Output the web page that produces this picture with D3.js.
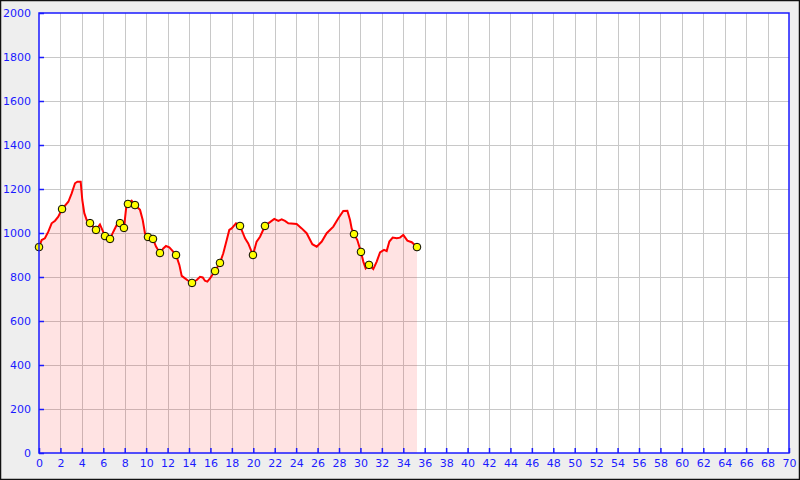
<!DOCTYPE html>
<html><head><meta charset="utf-8">
<script src="https://cdn.jsdelivr.net/npm/d3@7"></script>
<style>
html,body{margin:0;padding:0;background:#fff;}
svg{display:block;}
</style></head>
<body>
<svg id="c" width="800" height="480"></svg>
<script>
// Distance (km) along the profile
const distances = [0,0.25,0.55,0.87,1.18,1.5,1.8,2.15,2.74,3.05,3.36,3.58,3.89,4.04,4.23,4.45,4.76,5.32,5.69,6.16,6.63,6.94,7.25,7.56,7.93,8.18,8.3,8.65,8.96,9.43,9.68,9.89,10.17,10.64,10.92,11.29,11.6,11.85,12.16,12.38,12.79,13.1,13.32,13.63,13.93,14.28,14.72,15.03,15.28,15.49,15.71,15.96,16.43,16.89,17.2,17.52,17.76,17.98,18.39,18.76,19.23,19.53,19.97,20.31,20.63,21.09,21.4,21.96,22.34,22.65,22.96,23.27,24.05,24.52,24.98,25.51,25.92,26.39,26.85,27.47,27.94,28.4,28.78,29.03,29.18,29.4,29.71,30.05,30.27,30.49,30.8,31.2,31.52,31.83,32.2,32.45,32.7,33.01,33.39,33.69,34.0,34.38,34.79,35.28];
// Elevation (m)
const elevations = [936,968,976,1006,1044,1056,1074,1109,1142,1180,1226,1233,1233,1150,1090,1059,1045,1014,1039,986,973,1006,1036,1045,1023,1135,1132,1147,1127,1105,1059,999,982,973,938,909,930,941,935,923,900,855,805,794,783,773,786,801,798,783,779,794,827,864,908,968,1014,1021,1044,1032,976,953,900,961,983,1032,1044,1064,1055,1062,1055,1044,1041,1021,999,949,938,961,999,1029,1067,1100,1101,1059,1021,995,968,914,870,839,855,836,870,912,923,918,961,979,976,979,991,965,958,936];
// Waypoint markers
const waypointDist = [0,2.15,4.76,5.32,6.16,6.63,7.56,7.93,8.3,8.96,10.17,10.64,11.29,12.79,14.28,16.43,16.89,18.76,19.97,21.09,29.4,30.05,30.8,35.28];
const waypointElev = [936,1109,1045,1014,986,973,1045,1023,1132,1127,982,973,909,900,773,827,864,1032,900,1032,995,914,855,936];
const xTicks = d3.range(0, 71, 2);
const yTicks = d3.range(0, 2001, 200);

const W = 800, H = 480;
const L = 39, R = 789, T = 13, B = 453;
const svg = d3.select("#c");
const x = d3.scaleLinear().domain([0, 70]).range([L, R]);
const y = d3.scaleLinear().domain([0, 2000]).range([B, T]);

svg.append("rect").attr("x",0.5).attr("y",0.5).attr("width",W-1).attr("height",H-1)
  .attr("fill","#eeeeee").attr("stroke","#111").attr("stroke-width",1.5);
svg.append("rect").attr("x",L).attr("y",T).attr("width",R-L).attr("height",B-T).attr("fill","#fff");

// grid
const g = svg.append("g").attr("shape-rendering","crispEdges");
g.selectAll(".vg").data(xTicks.filter(d=>d>0&&d<70)).enter().append("line")
  .attr("x1",d=>Math.round(x(d))+0.5).attr("x2",d=>Math.round(x(d))+0.5)
  .attr("y1",T).attr("y2",B).attr("stroke","#c8c8c8");
g.selectAll(".hg").data(yTicks.filter(d=>d>0&&d<2000)).enter().append("line")
  .attr("y1",d=>Math.round(y(d))+0.5).attr("y2",d=>Math.round(y(d))+0.5)
  .attr("x1",L).attr("x2",R).attr("stroke","#c8c8c8");

const data = distances.map((d,i)=>({d, e: elevations[i]}));
const area = d3.area().x(p=>x(p.d)).y0(y(0)).y1(p=>y(p.e));
svg.append("path").datum(data).attr("d",area).attr("fill","rgba(255,0,0,0.11)");
const line = d3.line().x(p=>x(p.d)).y(p=>y(p.e));
svg.append("path").datum(data).attr("d",line).attr("fill","none")
  .attr("stroke","#ff0000").attr("stroke-width",2).attr("stroke-linejoin","miter");

const wps = waypointDist.map((d,i)=>({d, e: waypointElev[i]}));
svg.selectAll(".wp").data(wps).enter().append("circle")
  .attr("cx",p=>x(p.d)).attr("cy",p=>y(p.e)).attr("r",3.8)
  .attr("fill","#ffff00").attr("stroke","#000").attr("stroke-width",1);

// axes
const blue = "#1a1aff";
const xAxis = d3.axisBottom(x).tickValues(xTicks).tickSize(-5).tickPadding(6).tickFormat(d3.format("d"));
const yAxis = d3.axisLeft(y).tickValues(yTicks).tickSize(-5).tickPadding(8).tickFormat(d3.format("d"));
const gx = svg.append("g").attr("transform",`translate(0,${B})`).call(xAxis);
const gy = svg.append("g").attr("transform",`translate(${L},0)`).call(yAxis);
[gx, gy].forEach(a=>{
  a.selectAll("path").remove();
  a.selectAll("line").attr("stroke",blue).attr("stroke-width",1.5);
  a.selectAll("text").attr("fill",blue).style("font-family","DejaVu Sans").style("font-size","11px");
});
gy.selectAll("text").attr("dy","0.35em");
svg.append("rect").attr("x",L).attr("y",T).attr("width",R-L).attr("height",B-T)
  .attr("fill","none").attr("stroke",blue).attr("stroke-width",1.5);
</script>
</body></html>
